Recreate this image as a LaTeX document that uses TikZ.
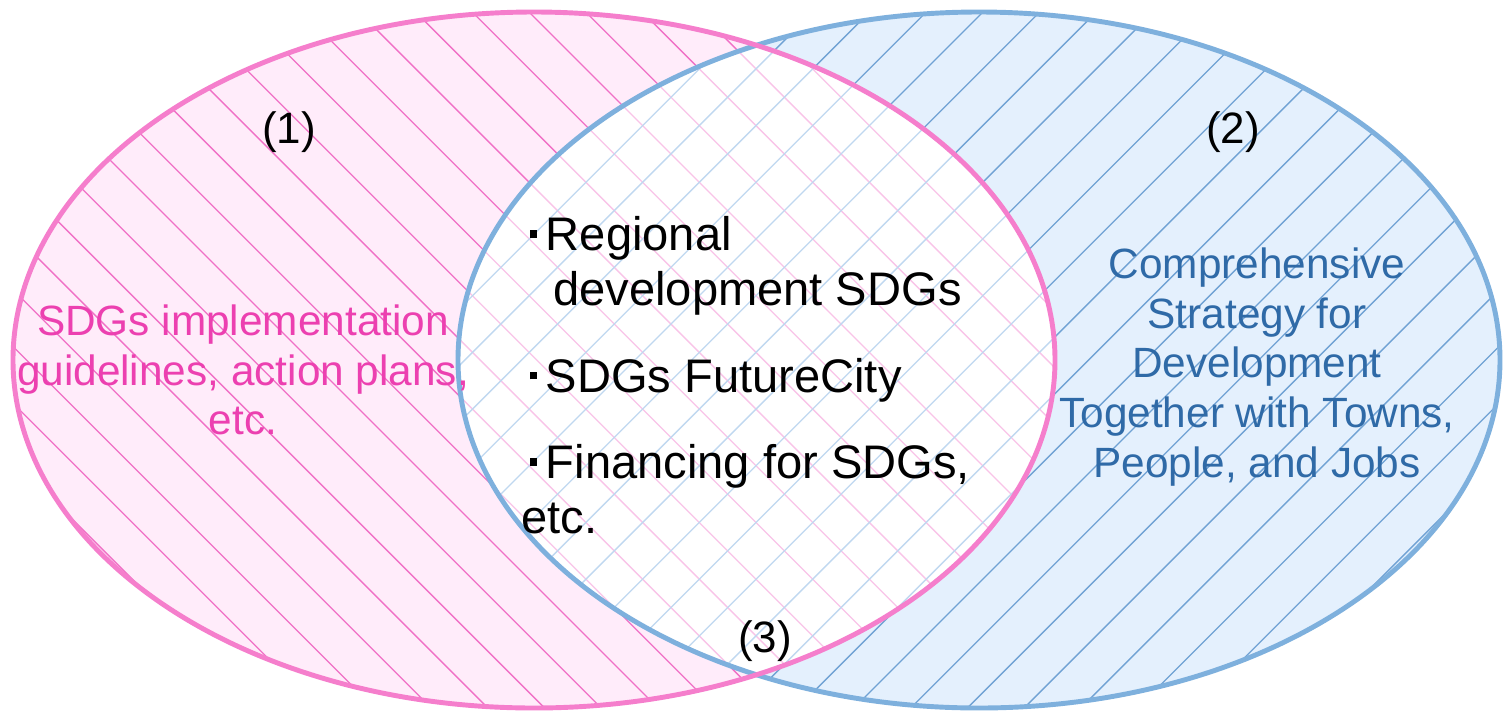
\documentclass[tikz,border=0pt]{standalone}
\usepackage{fontspec}
\setmainfont{Liberation Sans}
\definecolor{pbord}{RGB}{245,126,204}
\definecolor{bbord}{RGB}{126,176,221}
\definecolor{pfill}{RGB}{255,236,250}
\definecolor{bfill}{RGB}{228,240,253}
\definecolor{phat}{RGB}{240,112,198}
\definecolor{bhat}{RGB}{112,162,212}
\definecolor{phatl}{RGB}{249,196,232}
\definecolor{bhatl}{RGB}{192,216,240}
\definecolor{ptext}{RGB}{236,64,176}
\definecolor{btext}{RGB}{47,106,167}
\newcommand{\bul}{\makebox[0.52em][l]{\hspace{0.18em}\rule[0.27em]{0.16em}{0.16em}}}
\tikzset{%
    pbd/.style={line width=2.8pt, draw=pbord},
    bbd/.style={line width=2.8pt, draw=bbord},
    phl/.style={line width=0.75pt, draw=phat},
    bhl/.style={line width=0.75pt, draw=bhat},
    phll/.style={line width=0.75pt, draw=phatl},
    bhll/.style={line width=0.75pt, draw=bhatl},
    num/.style={inner sep=0pt, font=\fontsize{25}{30}\selectfont},
    ptx/.style={inner sep=0pt, align=center, text=ptext, font=\fontsize{24.1}{28.3}\selectfont},
    btx/.style={inner sep=0pt, align=center, text=btext, font=\fontsize{24.1}{28.3}\selectfont},
    ctx/.style={inner sep=0pt, align=left, font=\fontsize{26.8}{31.4}\selectfont},
}
\begin{document}
\begin{tikzpicture}[x=0.02cm, y=-0.02cm]
    \useasboundingbox (0,0) rectangle (1505,711);
    \coordinate (pc) at (534,360);
    \coordinate (bc) at (979,360);
    \fill [pfill] (pc) ellipse [x radius=521, y radius=348];
    \begin{scope}
        \clip (pc) ellipse [x radius=521, y radius=348];
        \foreach \k in {-20,...,14} \draw [phl] (-100,{-106.7+56.7*\k}) -- (1200,{1193.3+56.7*\k});
    \end{scope}
    \fill [bfill] (bc) ellipse [x radius=521, y radius=348];
    \begin{scope}
        \clip (bc) ellipse [x radius=521, y radius=348];
        \foreach \k in {7,...,40} \draw [bhl] ({131.1+56.7*\k},-100) -- ({-1068.9+56.7*\k},1100);
    \end{scope}
    \begin{scope}
        \clip (pc) ellipse [x radius=521, y radius=348];
        \clip (bc) ellipse [x radius=521, y radius=348];
        \fill [white] (0,0) rectangle (1505,711);
        \foreach \k in {-20,...,14} \draw [phll] (-100,{-106.7+56.7*\k}) -- (1200,{1193.3+56.7*\k});
        \foreach \k in {7,...,40} \draw [bhll] ({131.1+56.7*\k},-100) -- ({-1068.9+56.7*\k},1100);
    \end{scope}
    \draw [bbd] (bc) ellipse [x radius=521, y radius=348];
    \draw [pbd] (pc) ellipse [x radius=521, y radius=348];
    \node [num] (n1) at (289,132) {(1)};
    \node [num] (n2) at (1233,132) {(2)};
    \node [num] (n3) at (765,641) {(3)};
    \node [ptx] (ptxt) at (243,370) {SDGs implementation\\guidelines, action plans,\\etc.};
    \node [btx] (btxt) at (1257,367) {Comprehensive\\Strategy for\\Development\\Together with Towns,\\People, and Jobs};
    \node [ctx, anchor=north west] (ctxt) at (521,216) {\bul Regional\\\hspace*{0.68em}development SDGs\\[17.8pt]\bul SDGs FutureCity\\[17.8pt]\bul Financing for SDGs,\\etc.};
\end{tikzpicture}
\end{document}
